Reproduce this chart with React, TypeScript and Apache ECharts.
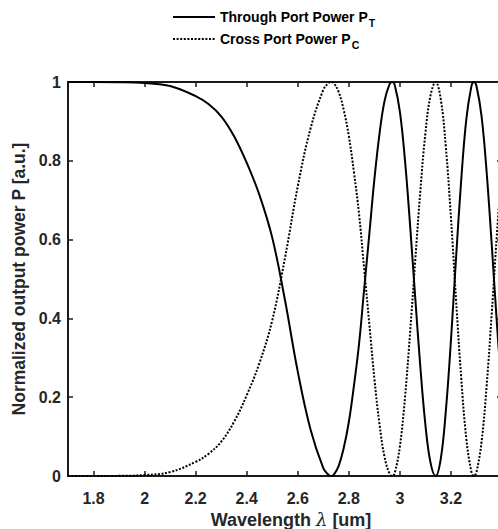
import React, { useEffect, useRef } from 'react';
import * as echarts from 'echarts';

const wavelength = [1.70, 1.80, 1.90, 2.00, 2.10, 2.20, 2.25, 2.30, 2.35, 2.40, 2.45, 2.50, 2.55, 2.60, 2.65, 2.70, 2.72, 2.73, 2.74, 2.76, 2.78, 2.80, 2.82, 2.84, 2.86, 2.88, 2.90, 2.92, 2.94, 2.96, 2.97, 2.98, 3.00, 3.02, 3.04, 3.06, 3.08, 3.10, 3.12, 3.14, 3.16, 3.18, 3.20, 3.22, 3.24, 3.26, 3.28, 3.29, 3.30, 3.32, 3.34, 3.36, 3.38, 3.40];

const throughPower = [1.000, 1.000, 0.9996, 0.9975, 0.990, 0.964, 0.944, 0.913, 0.863, 0.795, 0.713, 0.605, 0.446, 0.265, 0.118, 0.020, 0.003, 0.000, 0.002, 0.025, 0.071, 0.137, 0.229, 0.335, 0.474, 0.612, 0.752, 0.868, 0.952, 0.995, 1.000, 0.992, 0.925, 0.801, 0.636, 0.454, 0.278, 0.130, 0.034, 0.000, 0.043, 0.165, 0.344, 0.553, 0.749, 0.904, 0.989, 1.000, 0.990, 0.913, 0.770, 0.585, 0.387, 0.206];

const crossPower = [0.000, 0.000, 0.0004, 0.0025, 0.010, 0.036, 0.056, 0.087, 0.137, 0.205, 0.287, 0.395, 0.554, 0.735, 0.882, 0.980, 0.997, 1.000, 0.998, 0.975, 0.929, 0.863, 0.771, 0.665, 0.526, 0.388, 0.248, 0.132, 0.048, 0.005, 0.000, 0.008, 0.075, 0.199, 0.364, 0.546, 0.722, 0.870, 0.966, 1.000, 0.957, 0.835, 0.656, 0.447, 0.251, 0.096, 0.011, 0.000, 0.010, 0.087, 0.230, 0.415, 0.613, 0.794];

const xTickValues = [1.8, 2.0, 2.2, 2.4, 2.6, 2.8, 3.0, 3.2, 3.4];
const xLabelValues = [1.8, 2.0, 2.2, 2.4, 2.6, 2.8, 3.0, 3.2];

const FONT = '"Liberation Sans", Arial, Helvetica, sans-serif';
const AXIS_COLOR = '#1a1a1a';
const LABEL_COLOR = '#262626';

export default function App() {
  const ref = useRef<HTMLDivElement>(null);
  useEffect(() => {
    const chart = echarts.init(ref.current!, null, { renderer: 'svg' });
    const fmt = (v: number) => String(Number(Number(v).toFixed(1)));
    const axisLine = { show: true, onZero: false, lineStyle: { color: AXIS_COLOR, width: 2 } };
    const tick = { show: true, inside: true, length: 5, lineStyle: { color: AXIS_COLOR, width: 1.5 } };
    const labelStyle = { color: LABEL_COLOR, fontFamily: FONT, fontWeight: 'bold' as const, fontSize: 16 };

    chart.setOption({
      animation: false,
      backgroundColor: '#ffffff',
      grid: { left: 68, right: 8, top: 82, bottom: 53, containLabel: false, outerBoundsMode: 'none' },
      legend: {
        orient: 'vertical',
        left: 167,
        top: 5,
        itemWidth: 42,
        itemHeight: 14,
        itemGap: 4,
        selectedMode: false,
        itemStyle: { opacity: 0 },
        data: ['PT', 'PC'],
        formatter: (n: string) =>
          n === 'PT' ? '{a|Through Port Power P}{s|T}' : '{a|Cross Port Power P}{s|C}',
        textStyle: {
          rich: {
            a: { fontFamily: FONT, fontWeight: 'bold', fontSize: 14, color: '#000' },
            s: { fontFamily: FONT, fontWeight: 'bold', fontSize: 10.5, color: '#000', padding: [11, 0, 0, 1] },
          },
        },
      },
      xAxis: [
        {
          type: 'value',
          position: 'bottom',
          min: 1.7,
          max: 3.4,
          axisLine,
          axisTick: { ...tick, customValues: xTickValues },
          axisLabel: { ...labelStyle, customValues: xLabelValues, formatter: fmt, margin: 14 },
          splitLine: { show: false },
          name: '{a|Wavelength }{l|λ}{a| [um]}',
          nameLocation: 'middle',
          nameGap: 29,
          nameTextStyle: {
            padding: [0, 0, 0, 12],
            rich: {
              a: { fontFamily: FONT, fontWeight: 'bold', fontSize: 18, color: LABEL_COLOR },
              l: { fontFamily: '"DejaVu Serif", serif', fontStyle: 'italic', fontSize: 18, color: LABEL_COLOR },
            },
          },
        },
        {
          type: 'value',
          position: 'top',
          min: 1.7,
          max: 3.4,
          axisLine,
          axisTick: { ...tick, customValues: xTickValues },
          axisLabel: { show: false },
          splitLine: { show: false },
        },
      ],
      yAxis: [
        {
          type: 'value',
          position: 'left',
          min: 0,
          max: 1,
          interval: 0.2,
          axisLine,
          axisTick: tick,
          axisLabel: { ...labelStyle, formatter: fmt, margin: 7 },
          splitLine: { show: false },
          name: 'Normalized output power P [a.u.]',
          nameLocation: 'middle',
          nameGap: 27,
          nameTextStyle: { fontFamily: FONT, fontWeight: 'bold', fontSize: 17.5, color: LABEL_COLOR },
        },
        {
          type: 'value',
          position: 'right',
          min: 0,
          max: 1,
          interval: 0.2,
          axisLine,
          axisTick: tick,
          axisLabel: { show: false },
          splitLine: { show: false },
        },
      ],
      series: [
        {
          name: 'PC',
          type: 'line',
          xAxisIndex: 0,
          yAxisIndex: 0,
          data: wavelength.map((x, i) => [x, crossPower[i]]),
          symbol: 'none',
          smooth: 0.4,
          color: '#000',
          lineStyle: { color: '#000', width: 2, type: [2, 1.6] },
        },
        {
          name: 'PT',
          type: 'line',
          xAxisIndex: 0,
          yAxisIndex: 0,
          data: wavelength.map((x, i) => [x, throughPower[i]]),
          symbol: 'none',
          smooth: 0.4,
          color: '#000',
          lineStyle: { color: '#000', width: 2 },
        },
      ],
    });
    return () => chart.dispose();
  }, []);
  return (
    <div style={{ position: 'fixed', left: 0, top: 0, width: 498, height: 529, overflow: 'hidden', background: '#fff' }}>
      <div ref={ref} style={{ width: 510, height: 529 }} />
    </div>
  );
}
